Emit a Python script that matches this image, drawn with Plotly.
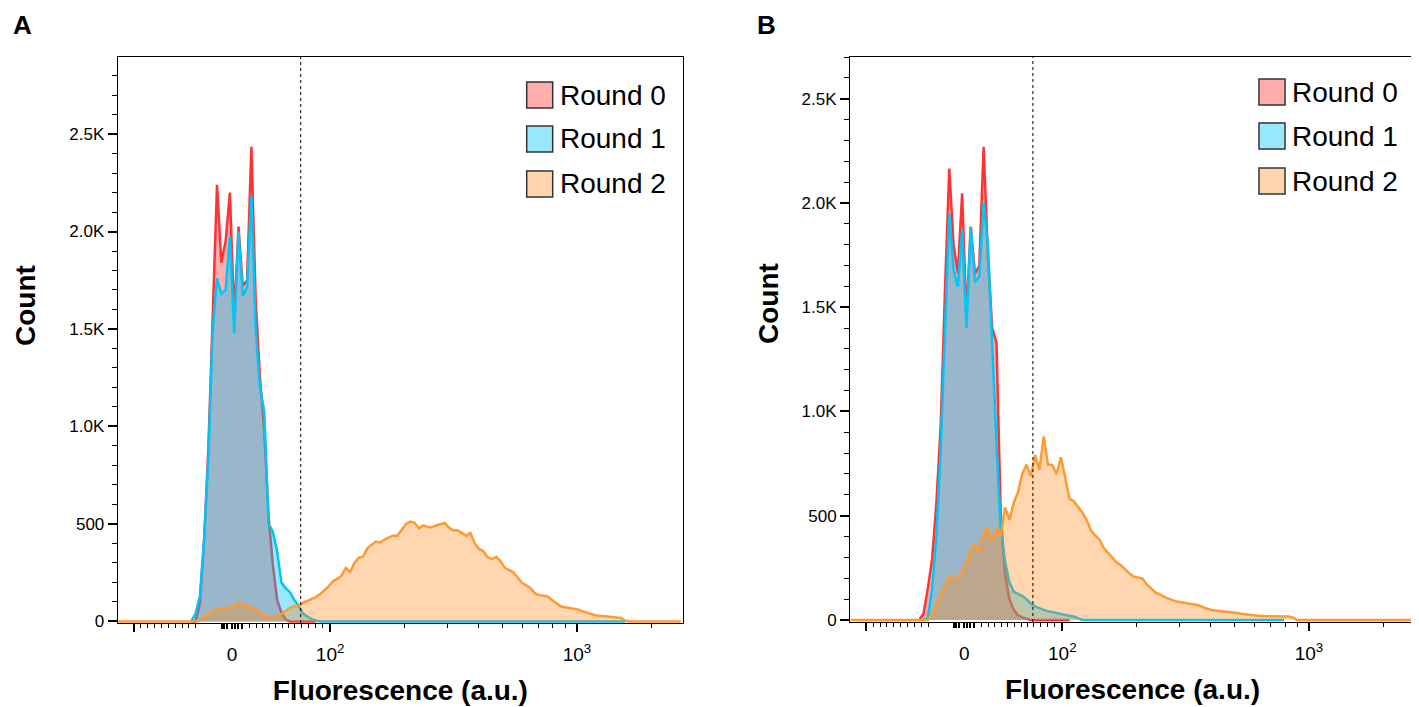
import numpy as np
import plotly.graph_objects as go

# ---------------- data ----------------
# histogram bins are evenly spaced on the biexponential display scale
BIN_START = -1.06
BIN_STEP = 0.04
N_BINS = 132
LIN_WIDTH = 109.5          # a.u. width of the linear part of the biex scale
GATE = 70                  # dotted gate position (a.u.)

series_names = ["Round 0", "Round 1", "Round 2"]

# Panel A
a_r0_first = 17
a_r0 = [0, 0, 90, 420, 900, 1560, 2240, 1840, 1950, 2200, 1560, 2025, 1720, 1750, 2435,
        1650, 1250, 980, 540, 290, 110, 45, 10, 0, 0, 0, 0, 0, 0, 0]
a_r1_first = 17
a_r1 = [0, 40, 130, 420, 850, 1500, 1760, 1680, 1700, 1974, 1480, 2000, 1670, 1716, 2180,
        1500, 1200, 1080, 500, 460, 360, 200, 170, 150, 110, 80, 40, 25, 12, 5] + [0] * 72
a_r2_first = 19
a_r2 = [5, 20, 40, 55, 62, 65, 70, 72, 80, 95,
        88, 78, 70, 62, 45, 30, 27, 27, 27, 38,
        55, 70, 78, 80, 95, 105, 113, 125, 140, 158,
        180, 206, 218, 235, 275, 253, 300, 326, 333, 375,
        395, 410, 405, 420, 430, 441, 440, 470, 500, 512,
        506, 478, 493, 485, 482, 492, 500, 505, 482, 467,
        468, 455, 440, 454, 400, 372, 360, 330, 320, 332,
        310, 275, 262, 252, 225, 198, 185, 170, 145, 135,
        132, 128, 110, 95, 78, 73, 70, 68, 62, 53,
        45, 38, 32, 29, 26, 24, 22, 20, 19, 5]

# Panel B
b_r0_first = 16
b_r0 = [0, 30, 150, 290, 560, 930, 1580, 2165, 1800, 1662, 2046, 1454, 1885, 1660, 1700,
        2269, 1750, 1400, 1330, 500, 220, 100, 50, 22, 12, 5] + [0] * 10
b_r1_first = 17
b_r1 = [0, 10, 150, 400, 820, 1400, 1950, 1680, 1598, 1870, 1400, 1885, 1620, 1650, 2000,
        1800, 1300, 850, 430, 280, 180, 136, 125, 115, 100, 78, 65, 55, 48, 42,
        37, 32, 28, 25, 20, 16, 8] + [0] * 48
b_r2_first = 19
b_r2 = [30, 75, 120, 170, 208, 195, 205, 235, 270, 340,
        360, 330, 420, 440, 375, 440, 400, 540, 480, 560,
        612, 700, 745, 690, 790, 720, 880, 745, 743, 700,
        780, 685, 580, 570, 545, 515, 480, 430, 405, 385,
        345, 320, 295, 275, 262, 240, 222, 208, 203, 198,
        170, 150, 132, 122, 110, 102, 95, 88, 85, 82,
        78, 74, 70, 62, 55, 48, 45, 43, 41, 40,
        35, 33, 30, 27, 25, 22, 20, 19, 19, 19,
        18, 18, 17, 16, 12]

# axis ticks (a.u. and counts)
x_label_vals = [0, 100, 1000]
x_label_text = ["0", "10<sup>2</sup>", "10<sup>3</sup>"]
x_major_vals = [-100, 100, 1000]
x_zero_vals = [-10, -8, -5, 0, 3, 6, 10]
x_minor_vals = [-93, -86, -79, -72, -65, -58, -51, -44, -37,
                18, 25, 31, 38, 44, 51, 58, 64, 71, 78, 85, 92,
                200, 300, 400, 500, 600, 700, 800, 900, 2000]
y_tick_vals = [0, 500, 1000, 1500, 2000, 2500]
y_tick_text = ["0", "500", "1.0K", "1.5K", "2.0K", "2.5K"]

# ---------------- helpers ----------------
def to_display(v):
    v = np.asarray(v, dtype=float)
    a = np.abs(v)
    return np.where(a <= LIN_WIDTH, v / LIN_WIDTH,
                    np.sign(v) * (1 + np.log(np.maximum(a, 1e-9) / LIN_WIDTH)))

centers = BIN_START + BIN_STEP * np.arange(N_BINS)

def series_xy(first, vals, full=False):
    if full:
        y = np.zeros(N_BINS)
        y[first:first + len(vals)] = vals
        return centers, y
    return centers[first:first + len(vals)], np.asarray(vals, dtype=float)

LINE_COLORS = ["#FF3333", "#00C6F8", "#FF9A30"]
FILL_COLORS = ["rgba(255,0,0,0.32)", "rgba(0,195,245,0.40)", "rgba(255,135,20,0.34)"]
SWATCH_COLORS = ["#FFADAD", "#99E7FA", "#FFD5AD"]

W, H = 1419, 707
OFF = 8   # page offset of the figure in the browser window
FONT = "Liberation Sans, Arial, sans-serif"
XR = [-1.065, 4.20]

def px(x):
    return (x - OFF) / W

def py(y):
    return 1 - (y - OFF) / H

fig = go.Figure()

panels = [
    dict(x="x", y="y", data=[(a_r0_first, a_r0, False), (a_r1_first, a_r1, False), (a_r2_first, a_r2, True)]),
    dict(x="x2", y="y2", data=[(b_r0_first, b_r0, False), (b_r1_first, b_r1, False), (b_r2_first, b_r2, True)]),
]
for p in panels:
    for i, (first, vals, full) in enumerate(p["data"]):
        xx, yy = series_xy(first, vals, full)
        fig.add_trace(go.Scatter(
            x=xx, y=yy, xaxis=p["x"], yaxis=p["y"], mode="lines",
            line=dict(color=LINE_COLORS[i], width=2.5, shape="linear"),
            fill="tozeroy", fillcolor=FILL_COLORS[i],
            name=series_names[i], showlegend=False, hoverinfo="skip"))

# empty traces so the overlay tick axes get drawn
for xa, ya in [("x3", "y"), ("x5", "y"), ("x4", "y2"), ("x6", "y2")]:
    fig.add_trace(go.Scatter(x=[None], y=[None], xaxis=xa, yaxis=ya, mode="lines",
                             showlegend=False, hoverinfo="skip"))

# domains (paper fractions)
xdomA = [px(117.7), px(683)]
xdomB = [px(850), px(1415)]
ydomA = [py(623), py(57)]
ydomB = [py(622), py(57)]

TITLE_FONT = dict(family=FONT, size=28, color="black", weight="bold")

label_x = dict(
    range=XR, showgrid=False, zeroline=False, showline=True, linecolor="black", linewidth=1,
    mirror=True, ticks="", tickmode="array", tickvals=list(to_display(x_label_vals)),
    ticktext=x_label_text, ticklabelstandoff=14, automargin=False,
    tickfont=dict(family=FONT, size=19, color="black"),
    title=dict(text="Fluorescence (a.u.)", font=TITLE_FONT, standoff=16),
)
major_x = dict(
    range=XR, showgrid=False, zeroline=False, showline=False, ticks="outside", ticklen=8,
    tickwidth=2, tickcolor="black", tickmode="array", tickvals=list(to_display(x_major_vals)),
    showticklabels=False, side="bottom", automargin=False,
    minor=dict(tickmode="array", tickvals=list(to_display(x_minor_vals)), ticks="outside",
               ticklen=4, tickwidth=1, tickcolor="black", showgrid=False),
)
zero_x = dict(
    range=XR, showgrid=False, zeroline=False, showline=False, ticks="outside", ticklen=5,
    tickwidth=2, tickcolor="black", tickmode="array", tickvals=list(to_display(x_zero_vals)),
    showticklabels=False, side="bottom", automargin=False,
)
common_y = dict(
    showgrid=False, zeroline=False, showline=True, linecolor="black", linewidth=1, mirror=True,
    ticks="outside", ticklen=9, tickwidth=1.5, tickcolor="black", tickmode="array",
    tickvals=y_tick_vals, ticktext=y_tick_text, automargin=False,
    tickfont=dict(family=FONT, size=17, color="black"),
    minor=dict(dtick=100, tick0=0, ticks="outside", ticklen=5, tickwidth=1, tickcolor="black", showgrid=False),
)

fig.update_layout(
    width=W, height=H, margin=dict(l=0, r=0, t=0, b=0, autoexpand=False),
    paper_bgcolor="white", plot_bgcolor="white", showlegend=False,
    xaxis=dict(domain=xdomA, anchor="y", **label_x),
    yaxis=dict(domain=ydomA, anchor="x", range=[-8, 2895], **common_y),
    xaxis2=dict(domain=xdomB, anchor="y2", **label_x),
    yaxis2=dict(domain=ydomB, anchor="x2", range=[-10, 2700], **common_y),
    xaxis3=dict(overlaying="x", anchor="y", **major_x),
    xaxis4=dict(overlaying="x2", anchor="y2", **major_x),
    xaxis5=dict(overlaying="x", anchor="y", **zero_x),
    xaxis6=dict(overlaying="x2", anchor="y2", **zero_x),
)

# y axis titles (sit above the axis centre in the reference)
for cx, cy in [(25, 306), (768, 304)]:
    fig.add_annotation(xref="paper", yref="paper", x=px(cx), y=py(cy), text="Count",
                       textangle=-90, showarrow=False, xanchor="center", yanchor="middle",
                       font=TITLE_FONT)

# gate lines
for xr, yr in [("x", "y domain"), ("x2", "y2 domain")]:
    gx = float(to_display(GATE))
    fig.add_shape(type="line", xref=xr, yref=yr, x0=gx, x1=gx, y0=0, y1=1,
                  line=dict(color="black", width=1, dash="dot"))

# manual legends (large swatches)
legend_pos = [(526.7, [95, 139, 184]), (1259, [92, 136, 181])]
for lx, ys in legend_pos:
    for i, yc in enumerate(ys):
        fig.add_shape(type="rect", xref="paper", yref="paper",
                      x0=px(lx), x1=px(lx + 26), y0=py(yc + 13), y1=py(yc - 13),
                      line=dict(color="#333333", width=1.5), fillcolor=SWATCH_COLORS[i])
        fig.add_annotation(xref="paper", yref="paper", x=px(lx + 31), y=py(yc),
                           text=series_names[i], showarrow=False, xanchor="left", yanchor="middle",
                           font=dict(family=FONT, size=28, color="black"))

# panel letters
for txt, cx in [("A", 22), ("B", 767)]:
    fig.add_annotation(xref="paper", yref="paper", x=px(cx), y=py(25), text=txt,
                       showarrow=False, xanchor="center", yanchor="middle",
                       font=dict(family=FONT, size=26, color="black", weight="bold"))

fig.write_html("out.html")
